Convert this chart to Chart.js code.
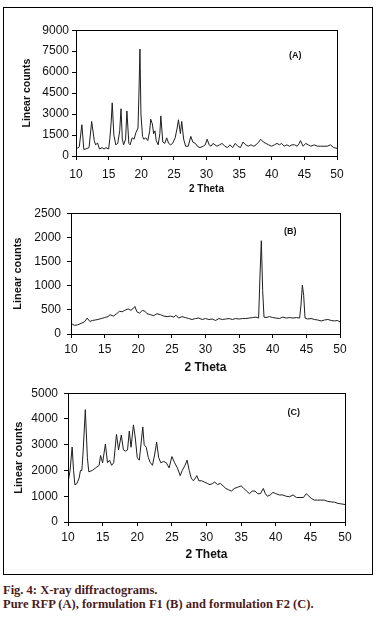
<!DOCTYPE html>
<html>
<head>
<meta charset="utf-8">
<script src="https://cdn.jsdelivr.net/npm/chart.js@4.4.1/dist/chart.umd.min.js"></script>
<style>
  body { margin: 0; background: #fff; }
  #wrap { position: relative; width: 389px; height: 618px; }
  #frame { position: absolute; left: 3px; top: 7px; width: 368px; height: 566px; border: 1px solid #000; }
  canvas { position: absolute; left: 0; }
  #cap { position: absolute; left: 3px; top: 583px; font: bold 12.5px "Liberation Serif", serif; line-height: 14px; color: #4a1c1c; }
</style>
</head>
<body>
<div id="wrap">
  <div id="frame"></div>
  <canvas id="chartA" width="389" height="180" style="top:20px"></canvas>
  <canvas id="chartB" width="389" height="180" style="top:200px"></canvas>
  <canvas id="chartC" width="389" height="190" style="top:380px"></canvas>
  <div id="cap">Fig. 4: X-ray diffractograms.<br>Pure RFP (A), formulation F1 (B) and formulation F2 (C).</div>
</div>
<script>
// Pure RFP (A)
const thetaA = [
  10, 10.5, 10.9, 11.2, 11.5, 12, 12.4, 12.8, 13.0, 13.3,
  13.6, 14.0, 14.3, 14.6, 15.0, 15.2, 15.4, 15.55, 15.8, 16.1,
  16.4, 16.7, 16.9, 17.1, 17.3, 17.6, 17.8, 18.1, 18.3, 18.6,
  18.9, 19.2, 19.5, 19.65, 19.8, 19.95, 20.2, 20.4, 20.7, 21.0,
  21.3, 21.45, 21.7, 21.9, 22.1, 22.3, 22.6, 22.85, 23.0, 23.3,
  23.6, 23.9, 24.2, 24.5, 24.8, 25.2, 25.5, 25.7, 26.0, 26.2,
  26.5, 26.8, 27.2, 27.6, 27.9, 28.3, 28.6, 29.0, 29.5, 29.8,
  30.1, 30.4, 30.7, 31.0, 31.3, 31.6, 32.0, 32.4, 32.8, 33.2,
  33.6, 34.0, 34.4, 34.8, 35.2, 35.6, 36.0, 36.4, 36.8, 37.2,
  37.6, 38.0, 38.3, 38.7, 39.1, 39.5, 40.0, 40.4, 40.8, 41.2,
  41.5, 41.9, 42.3, 42.7, 43.1, 43.5, 43.9, 44.2, 44.4, 44.8,
  45.2, 45.6, 46.0, 46.5, 47.0, 47.5, 48.0, 48.5, 49.0, 49.5,
  50
];
const countsA = [
  500, 650, 2240, 470, 500, 600, 2470, 1100, 800, 930,
  500, 600, 500, 600, 500, 1300, 2500, 3800, 1500, 800,
  900, 1800, 3380, 1200, 800, 1200, 3220, 900, 800, 1300,
  1200, 1700, 2000, 4500, 7650, 3000, 1400, 1200, 1300, 1100,
  1800, 2630, 2300, 1600, 1800, 1100, 800, 1600, 2870, 1000,
  900, 1300, 900, 800, 900, 1300, 2000, 2590, 1600, 2470,
  1200, 700, 700, 1400, 1000, 900, 700, 600, 700, 800,
  1200, 800, 700, 900, 800, 700, 800, 900, 700, 600,
  800, 600, 900, 700, 600, 1000, 800, 700, 800, 700,
  800, 1000, 1200, 1000, 900, 800, 700, 800, 900, 800,
  900, 700, 800, 700, 800, 800, 700, 900, 1100, 700,
  900, 800, 700, 800, 700, 700, 700, 700, 800, 600,
  550
];

// formulation F1 (B)
const thetaB = [
  10, 10.5, 11, 11.5, 12, 12.4, 12.8, 13.2, 13.6, 14,
  14.5, 15, 15.5, 15.8, 16.3, 16.8, 17.2, 17.6, 18, 18.5,
  18.9, 19.2, 19.5, 19.8, 20.2, 20.6, 21, 21.3, 21.8, 22.3,
  22.8, 23.3, 23.8, 24.3, 24.8, 25.3, 25.6, 26, 26.5, 27,
  27.5, 28, 28.5, 29, 29.5, 30, 30.5, 31, 31.5, 32,
  32.5, 33, 33.5, 34, 34.5, 35, 35.5, 36, 36.5, 37,
  37.5, 37.9, 38.1, 38.3, 38.5, 38.7, 39, 39.5, 40, 40.5,
  41, 41.5, 42, 42.5, 43, 43.5, 44, 44.2, 44.4, 44.6,
  44.8, 45.2, 45.7, 46.2, 46.7, 47.2, 47.7, 48.2, 48.7, 49.2,
  49.6, 50
];
const countsB = [
  218, 180, 190, 220, 250, 330, 260, 280, 290, 300,
  320, 340, 360, 400, 370, 420, 470, 460, 490, 520,
  490, 520, 570, 460, 430, 490, 470, 420, 400, 380,
  420, 400, 370, 360, 370, 350, 390, 330, 360, 340,
  320, 300, 320, 330, 300, 320, 300, 310, 280, 320,
  300, 310, 320, 300, 320, 310, 320, 320, 330, 340,
  350, 330, 1200, 1930, 900, 350, 340, 360, 340, 330,
  320, 350, 330, 340, 330, 340, 330, 600, 1010, 800,
  330, 310, 320, 300, 290, 270, 290, 300, 280, 270,
  280, 250
];

// formulation F2 (C)
const thetaC = [
  10, 10.3, 10.6, 10.8, 11.0, 11.3, 11.6, 11.8, 12.0, 12.2,
  12.5, 12.8, 13.0, 13.5, 14, 14.5, 14.7, 15.0, 15.4, 15.7,
  16.0, 16.3, 16.6, 17.0, 17.3, 17.7, 18.0, 18.3, 18.6, 18.85,
  19.1, 19.45, 19.7, 20.0, 20.3, 20.8, 21.0, 21.3, 21.6, 21.9,
  22.2, 22.5, 22.8, 23.1, 23.4, 23.8, 24.2, 24.6, 25.0, 25.4,
  25.8, 26.2, 26.5, 26.9, 27.2, 27.5, 27.8, 28.1, 28.4, 28.6,
  28.9, 29.3, 29.7, 30.1, 30.5, 30.9, 31.2, 31.6, 32, 32.4,
  32.8, 33.2, 33.6, 34, 34.5, 35, 35.4, 35.8, 36.2, 36.6,
  37, 37.4, 37.8, 38.2, 38.5, 38.8, 39.2, 39.6, 40, 40.5,
  41, 41.5, 42, 42.5, 43, 43.5, 44, 44.4, 44.8, 45.2,
  45.6, 46, 46.5, 47, 47.5, 48, 48.5, 49, 49.5, 50
];
const countsC = [
  1530, 2000, 2910, 2000, 1440, 1500, 1700, 2000, 2000, 2800,
  4360, 2500, 1950, 2000, 2100, 2200, 2580, 2300, 3030, 2300,
  2400, 2200, 2300, 3400, 2800, 3380, 2800, 2750, 2800, 3530,
  2900, 3770, 3300, 2500, 2400, 3690, 3000, 2900, 2500, 2300,
  2200, 2600, 3100, 2500, 2300, 2350, 2300, 2100, 2540, 2300,
  2100, 1800, 2000, 2200, 2400, 2000, 1700, 1600, 1700, 1800,
  1600, 1600, 1550, 1500, 1450, 1500, 1550, 1450, 1500, 1400,
  1300, 1250, 1200, 1300, 1350, 1400, 1300, 1200, 1100, 1200,
  1200, 1100, 1100, 1300, 1100, 1000, 1050, 1150, 1100, 1050,
  1050, 1000, 980, 1050, 950, 950, 950, 1100, 1000, 900,
  850, 850, 850, 850, 800, 780, 770, 720, 700, 680
];

const FONT = '"Liberation Sans", Arial, sans-serif';

// box round the plot area plus the (A)/(B)/(C) tag
const boxPlugin = {
  id: 'box',
  afterDatasetsDraw(chart, args, opts) {
    const { ctx, chartArea: a, scales } = chart;
    ctx.save();
    ctx.strokeStyle = '#000';
    ctx.lineWidth = 1;
    ctx.strokeRect(Math.round(a.left) + 0.5, Math.round(a.top) + 0.5,
                   Math.round(a.right - a.left), Math.round(a.bottom - a.top));
    ctx.fillStyle = '#111';
    ctx.font = 'bold 9px ' + FONT;
    ctx.textAlign = 'center';
    ctx.textBaseline = 'middle';
    ctx.fillText(opts.tag, scales.x.getPixelForValue(opts.tx), scales.y.getPixelForValue(opts.ty));
    ctx.restore();
  }
};

function makeChart(id, xs, ys, cfg) {
  const pts = xs.map((x, i) => ({ x: x, y: ys[i] }));
  return new Chart(document.getElementById(id), {
    type: 'line',
    data: {
      datasets: [{
        data: pts,
        borderColor: '#1e1e1e',
        borderWidth: 1,
        pointRadius: 0,
        tension: 0,
        fill: false
      }]
    },
    options: {
      responsive: false,
      animation: false,
      devicePixelRatio: 1,
      layout: { padding: { left: 0, top: cfg.padTop, right: cfg.padRight, bottom: 0 } },
      plugins: {
        legend: { display: false },
        tooltip: { enabled: false },
        box: { tag: cfg.tag, tx: cfg.tx, ty: cfg.ty }
      },
      scales: {
        x: {
          type: 'linear',
          min: 10, max: 50,
          afterFit: (s) => { s.height = cfg.xHeight; },
          ticks: { stepSize: 5, color: '#111', padding: cfg.xTickPad, font: { family: FONT, size: 12 },
                   callback: (v) => String(v) },
          grid: { drawOnChartArea: false, tickLength: 4, color: '#000' },
          border: { color: '#000' },
          title: { display: true, text: '2 Theta', color: '#111',
                   font: { family: FONT, size: cfg.xTitleSize, weight: 'bold' },
                   padding: { top: 0, bottom: cfg.xTitlePad } }
        },
        y: {
          min: 0, max: cfg.yMax,
          afterFit: (s) => { s.width = cfg.yWidth; },
          ticks: { stepSize: cfg.yStep, color: '#111', padding: cfg.yTickPad, font: { family: FONT, size: 12 },
                   callback: (v) => String(v) },
          grid: { drawOnChartArea: false, tickLength: 4, color: '#000' },
          border: { color: '#000' },
          title: { display: true, text: 'Linear counts', color: '#111',
                   font: { family: FONT, size: cfg.yTitleSize, weight: 'bold' },
                   padding: { top: cfg.yTitlePad, bottom: 0 } }
        }
      }
    },
    plugins: [boxPlugin]
  });
}

makeChart('chartA', thetaA, countsA, {
  padTop: 7, padRight: 52, xHeight: 44, yWidth: 76, yMax: 9000, yStep: 1500,
  xTickPad: 7, yTickPad: 3, xTitleSize: 10, xTitlePad: 5, yTitleSize: 10.5, yTitlePad: 20.5,
  tag: '(A)', tx: 43.6, ty: 7190
});
makeChart('chartB', thetaB, countsB, {
  padTop: 12, padRight: 49, xHeight: 46, yWidth: 71, yMax: 2500, yStep: 500,
  xTickPad: 4, yTickPad: 6, xTitleSize: 12, xTitlePad: 4.8, yTitleSize: 11, yTitlePad: 11,
  tag: '(B)', tx: 42.6, ty: 2130
});
makeChart('chartC', thetaC, countsC, {
  padTop: 6, padRight: 44, xHeight: 48, yWidth: 68, yMax: 5000, yStep: 1000,
  xTickPad: 4, yTickPad: 6, xTitleSize: 12, xTitlePad: 7.8, yTitleSize: 11, yTitlePad: 12,
  tag: '(C)', tx: 42.6, ty: 4265
});
</script>
</body>
</html>
